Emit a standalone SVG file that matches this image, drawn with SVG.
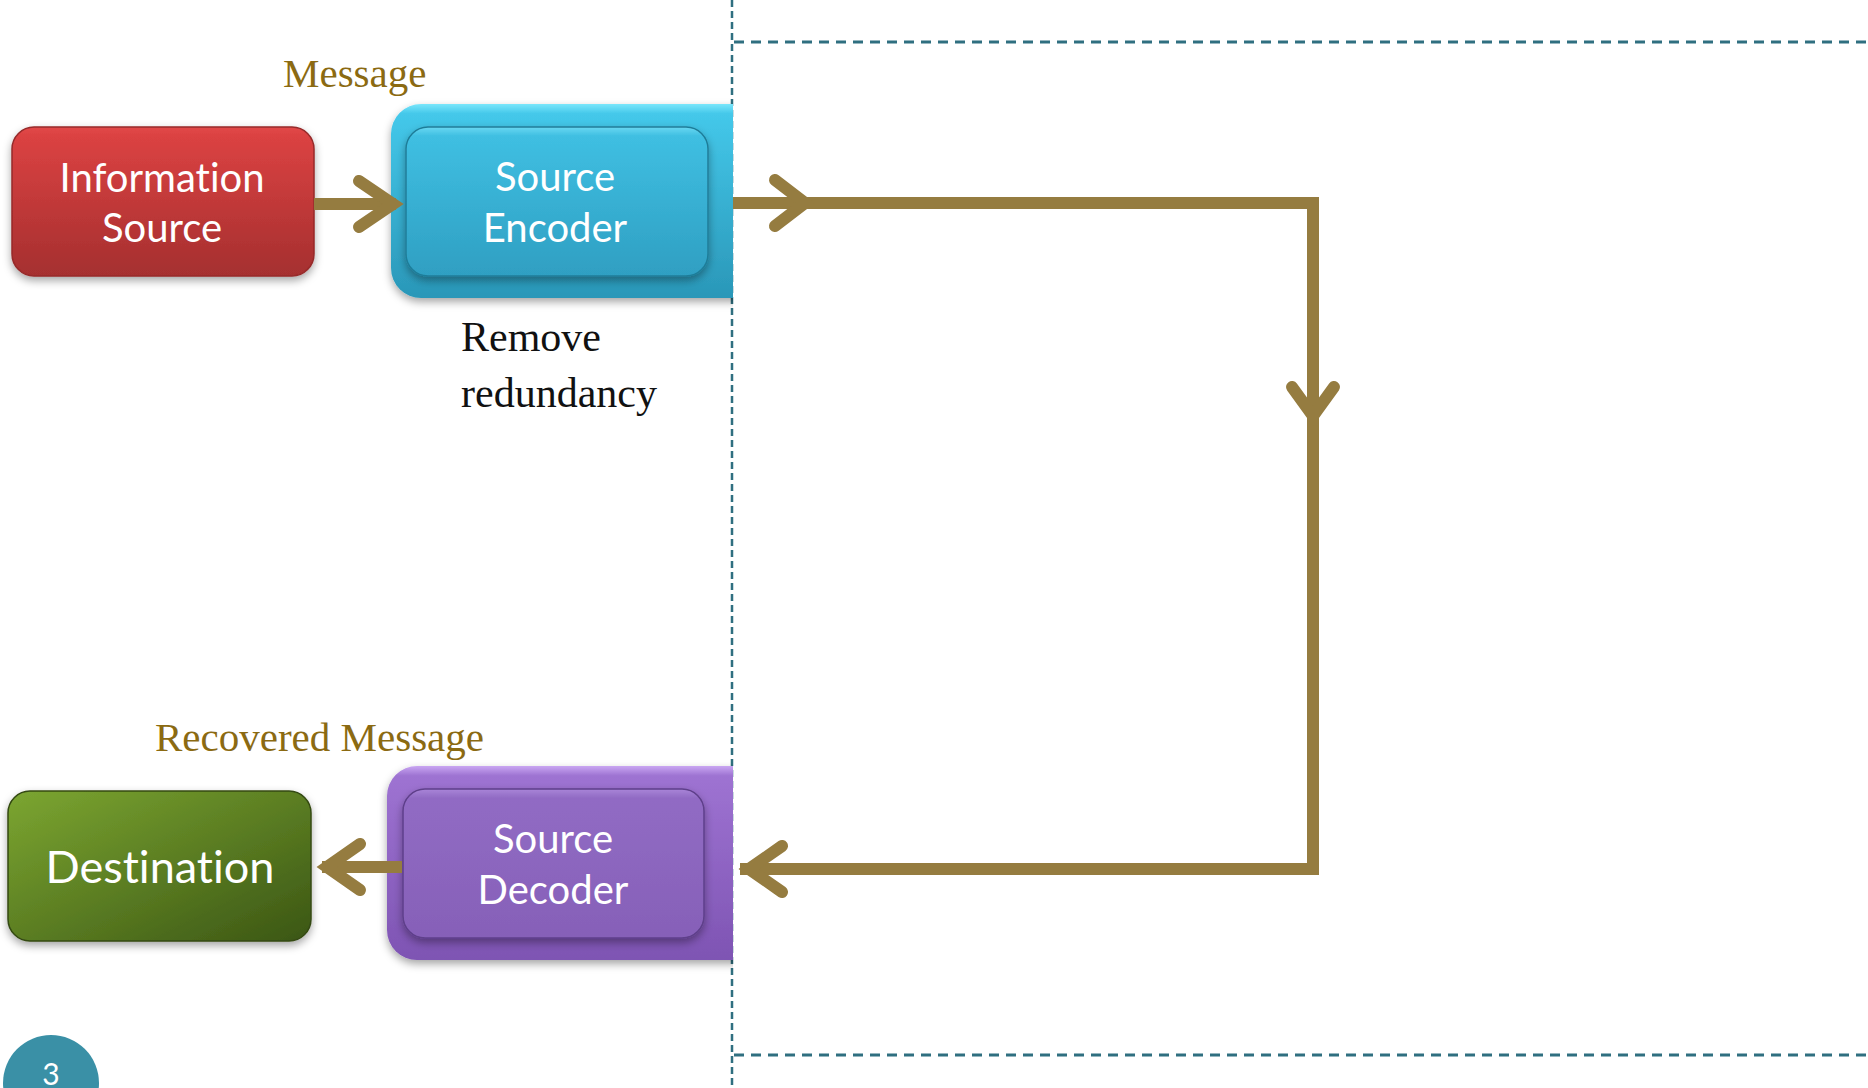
<svg xmlns="http://www.w3.org/2000/svg" width="1868" height="1088" viewBox="0 0 1868 1088">
<style>
.nodetext{font-family:Lato,"Open Sans","Liberation Sans",sans-serif;fill:#ffffff;text-anchor:middle;font-variant-ligatures:none;font-feature-settings:"liga" 0}
.lbl{font-family:"Liberation Serif","DejaVu Serif",serif;font-size:41px;fill:#8B6A12}
.note{font-family:"Liberation Serif","DejaVu Serif",serif;font-size:42px;fill:#111111}
.conn{fill:none;stroke:#957C40;stroke-width:12;stroke-linejoin:miter;stroke-miterlimit:10}
.head{fill:none;stroke:#957C40;stroke-width:12;stroke-linecap:round;stroke-linejoin:miter;stroke-miterlimit:10}
.dash{fill:none;stroke:#2F6F80;stroke-width:3;stroke-dasharray:10 7}
.vdash{fill:none;stroke:#2F6F80;stroke-width:2.5;stroke-dasharray:7 4}
</style>
<defs>
<linearGradient id="gRed" x1="0" y1="0" x2="0" y2="1">
<stop offset="0" stop-color="#e24848"/><stop offset="0.06" stop-color="#db4242"/><stop offset="1" stop-color="#a52f2f"/>
</linearGradient>
<linearGradient id="gCyanO" x1="0" y1="0" x2="0" y2="1">
<stop offset="0" stop-color="#7ae6fb"/><stop offset="0.05" stop-color="#44c8ea"/><stop offset="1" stop-color="#2a97b8"/>
</linearGradient>
<linearGradient id="gCyanI" x1="0" y1="0" x2="0" y2="1">
<stop offset="0" stop-color="#6ad8f2"/><stop offset="0.06" stop-color="#3fbfe2"/><stop offset="1" stop-color="#2f9fc2"/>
</linearGradient>
<linearGradient id="gPurO" x1="0" y1="0" x2="0" y2="1">
<stop offset="0" stop-color="#c9a6f2"/><stop offset="0.05" stop-color="#9e73d2"/><stop offset="1" stop-color="#7e54b3"/>
</linearGradient>
<linearGradient id="gPurI" x1="0" y1="0" x2="0" y2="1">
<stop offset="0" stop-color="#a985d8"/><stop offset="0.06" stop-color="#916bc4"/><stop offset="1" stop-color="#8660b8"/>
</linearGradient>
<linearGradient id="gGreen" x1="0" y1="0" x2="1" y2="1">
<stop offset="0" stop-color="#7ca631"/><stop offset="1" stop-color="#3b5614"/>
</linearGradient>
<filter id="shadow" x="-10%" y="-10%" width="120%" height="130%">
<feDropShadow dx="0" dy="4" stdDeviation="4" flood-color="#000" flood-opacity="0.35"/>
</filter>
<clipPath id="clipL"><rect x="0" y="0" width="733" height="1088"/></clipPath>
</defs>
<rect width="1868" height="1088" fill="#ffffff"/>

<g id="frame">
<line class="vdash" x1="732" y1="0" x2="732" y2="1088"/>
<line class="dash" x1="734" y1="42" x2="1868" y2="42"/>
<line class="dash" x1="734" y1="1055" x2="1868" y2="1055"/>
</g>

<g id="information-source">
<rect x="12" y="127" width="302" height="149" rx="22" fill="url(#gRed)" stroke="#962a2a" stroke-width="1.5" filter="url(#shadow)"/>
<text class="nodetext" x="162" y="192" font-size="40">Information</text>
<text class="nodetext" x="162" y="242" font-size="40">Source</text>
</g>

<g id="source-encoder">
<g clip-path="url(#clipL)">
<rect x="391" y="104" width="400" height="194" rx="30" fill="url(#gCyanO)" filter="url(#shadow)"/>
</g>
<rect x="406" y="127" width="302" height="149" rx="22" fill="url(#gCyanI)" stroke="#1f7d99" stroke-width="1.5" filter="url(#shadow)"/>
<text class="nodetext" x="555" y="191" font-size="40">Source</text>
<text class="nodetext" x="555" y="242" font-size="40">Encoder</text>
</g>

<g id="source-decoder">
<g clip-path="url(#clipL)">
<rect x="387" y="766" width="400" height="194" rx="30" fill="url(#gPurO)" filter="url(#shadow)"/>
</g>
<rect x="403" y="789" width="301" height="149" rx="22" fill="url(#gPurI)" stroke="#5e3f8a" stroke-width="1.5" filter="url(#shadow)"/>
<text class="nodetext" x="553" y="853" font-size="40">Source</text>
<text class="nodetext" x="553" y="904" font-size="40">Decoder</text>
</g>

<g id="destination">
<rect x="8" y="791" width="303" height="150" rx="22" fill="url(#gGreen)" stroke="#344a12" stroke-width="1.5" filter="url(#shadow)"/>
<text class="nodetext" x="160" y="883" font-size="45">Destination</text>
</g>

<g id="labels">
<text class="lbl" x="283" y="87">Message</text>
<text class="lbl" x="155" y="751">Recovered Message</text>
<text class="note" x="461" y="351">Remove</text>
<text class="note" x="461" y="407">redundancy</text>
</g>

<g id="connectors">
<line class="conn" x1="314" y1="204" x2="396" y2="204"/>
<polyline class="head" points="359,181 393,204 359,227"/>
<path class="conn" d="M733,203 H1313 V869 H740"/>
<polyline class="head" points="775,180 805,203 775,226"/>
<polyline class="head" points="1292,387 1313,416 1334,387"/>
<polyline class="head" points="782,846 749,869 782,892"/>
<line class="conn" x1="402" y1="867" x2="322" y2="867"/>
<polyline class="head" points="360,844 327,867 360,890"/>
</g>

<g id="page-number">
<circle cx="51" cy="1083" r="48" fill="#3a90a6"/>
<text x="51" y="1085" font-family="Lato,'Open Sans',sans-serif" font-size="30" fill="#ffffff" text-anchor="middle">3</text>
</g>
</svg>
